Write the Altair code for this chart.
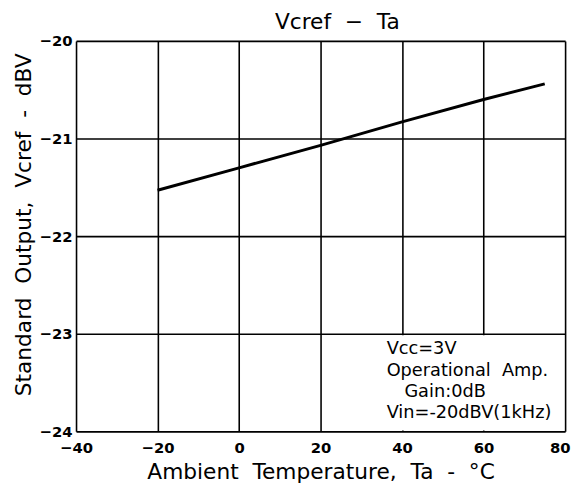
import altair as alt
import pandas as pd

temps = [-20, 0, 20, 40, 60, 75]
vcref = [-21.53, -21.30, -21.07, -20.83, -20.60, -20.44]
x_ticks = [-40, -20, 0, 20, 40, 60, 80]
y_ticks = [-24, -23, -22, -21, -20]
NB = "\u00a0"
note_lines = ["Vcc=3V", f"Operational{NB}{NB}Amp.", "Gain:0dB", "Vin=-20dBV(1kHz)"]
note_indent = [0, 0, 18, 0]
title_text = f"Vcref{NB}{NB}−{NB}{NB}Ta"
x_title = f"Ambient{NB}{NB}Temperature,{NB}{NB}Ta{NB}{NB}-{NB}{NB}°C"
y_title = f"Standard{NB}{NB}Output,{NB}{NB}Vcref{NB}{NB}-{NB}{NB}dBV"

df = pd.DataFrame({"Ta": temps, "V": vcref})

FONT = "DejaVu Sans"

common_axis = dict(grid=True, gridColor="black", gridWidth=1.6, gridOpacity=1,
                   domain=False, ticks=False,
                   labelFont=FONT, labelFontSize=15, labelFontWeight="bold",
                   labelColor="black", titleFont=FONT, titleFontSize=22,
                   titleFontWeight="normal", titleColor="black", labelFlush=False)

x_enc = alt.X("Ta:Q", scale=alt.Scale(domain=[-40, 80], nice=False, zero=False),
              axis=alt.Axis(values=x_ticks, title=x_title, labelPadding=9,
                            titlePadding=7,
                            labelAlign=alt.ExprRef("datum.value == 80 ? 'right' : 'center'"),
                            labelOffset=alt.ExprRef("datum.value == 80 ? 5 : 0"),
                            **common_axis))
y_enc = alt.Y("V:Q", scale=alt.Scale(domain=[-24, -20], nice=False, zero=False),
              axis=alt.Axis(values=y_ticks, title=y_title, labelPadding=4,
                            titlePadding=4, titleY=186, **common_axis))

line = alt.Chart(df).mark_line(color="black", strokeWidth=3).encode(x=x_enc, y=y_enc)

box = alt.Chart(df).mark_rect(color="white", opacity=1).encode(
    x=alt.value(250), x2=alt.value(495), y=alt.value(298.5), y2=alt.value(395)
).transform_filter("datum.Ta == 0")

layers = [line, box]
for i, (txt, ind) in enumerate(zip(note_lines, note_indent)):
    layers.append(
        alt.Chart(pd.DataFrame({"t": [txt]})).mark_text(
            align="left", baseline="middle", font=FONT, fontSize=18, color="black"
        ).encode(x=alt.value(315 + ind), y=alt.value(313 + i * 21.5), text="t")
    )

chart = alt.layer(*layers).properties(
    width=496, height=396,
    title=alt.TitleParams(title_text, font=FONT, fontSize=22, fontWeight="normal",
                          color="black", anchor="middle", offset=0, dx=17),
    autosize=alt.AutoSizeParams(type="none"),
    padding={"left": 69, "top": 30, "right": 7, "bottom": 49},
).configure_view(stroke="black", strokeWidth=2.5).configure(background="white")

chart.save("out.html", embed_options={"renderer": "svg", "actions": False})
